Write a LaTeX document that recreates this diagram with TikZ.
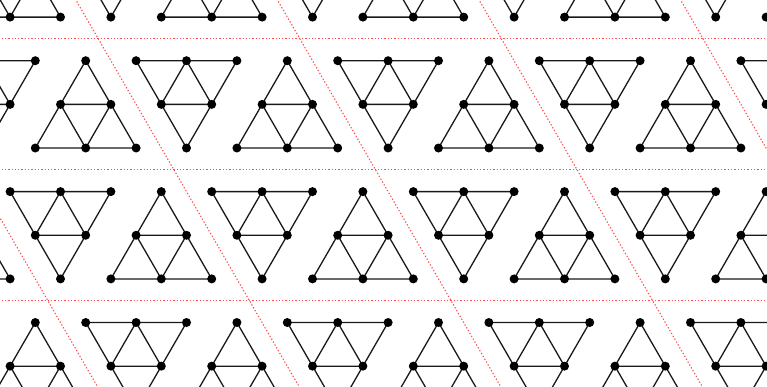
\documentclass[tikz,border=0pt]{standalone}
\begin{document}
\begin{tikzpicture}[x=1pt,y=-1pt,
  edge/.style={line width=1.3pt, black!90, line join=round},
  vertex/.style={fill=black},
  cellline/.style={red!70, dash pattern=on 1.3pt off 2pt, line width=1.1pt}]
\useasboundingbox (0,0) rectangle (767,386);
\clip (0,0) rectangle (767,386);
% fundamental domain boundaries
\foreach \ly in {38.5,169.5,300.5}{
  \draw[cellline] (-5,\ly) -- (772,\ly);
}
\foreach \m in {-1,...,3}{
  \pgfmathsetmacro\cx{98.3+\m*201.6}
  \coordinate (ca) at ({\cx-28.2},-10);
  \coordinate (cb) at ({\cx+208.5},400);
  \draw[cellline] (ca) -- (cb);
}
% motifs
\foreach \k in {-1,...,2}{
  \foreach \m in {-3,...,4}{
    \pgfmathsetmacro\px{85.7+\k*75.6+\m*201.6}
    \pgfmathsetmacro\py{60.7+\k*130.9}
    \begin{scope}[shift={(\px,\py)}]
      \coordinate (U1) at (0,0);
      \coordinate (U2) at (-25.2,43.65);
      \coordinate (U3) at (25.2,43.65);
      \coordinate (U4) at (-50.4,87.3);
      \coordinate (U5) at (0,87.3);
      \coordinate (U6) at (50.4,87.3);
      \coordinate (D1) at (50.4,0);
      \coordinate (D2) at (100.8,0);
      \coordinate (D3) at (151.2,0);
      \coordinate (D4) at (75.6,43.65);
      \coordinate (D5) at (126,43.65);
      \coordinate (D6) at (100.8,87.3);
      \draw[edge] (U1)--(U2)--(U4)--(U5)--(U6)--(U3)--(U1) (U2)--(U3)--(U5)--(U2);
      \draw[edge] (D1)--(D2)--(D3)--(D5)--(D6)--(D4)--(D1) (D4)--(D5)--(D2)--(D4);
      \foreach \v in {U1,U2,U3,U4,U5,U6,D1,D2,D3,D4,D5,D6}
        \fill[vertex] (\v) circle (4.5pt);
    \end{scope}
  }
}
\end{tikzpicture}
\end{document}
